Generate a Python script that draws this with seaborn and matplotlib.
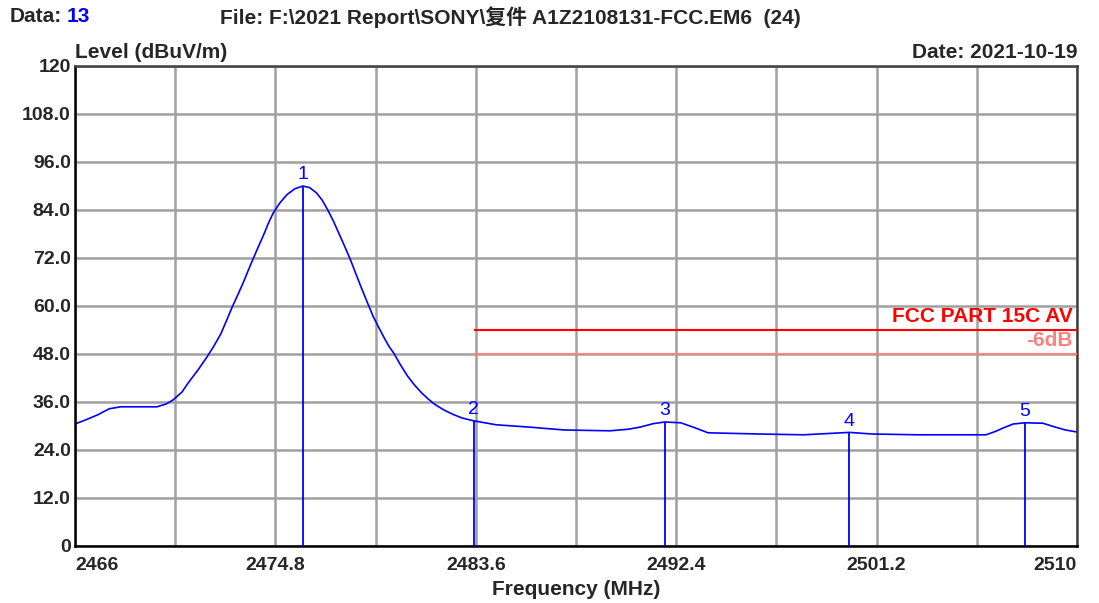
import numpy as np
import pandas as pd
import matplotlib
matplotlib.use("Agg")
import matplotlib.pyplot as plt
import seaborn as sns

# trace (MHz, dBuV/m)
freq = [2466.0, 2466.5, 2467.0, 2467.5, 2468.0, 2469.6, 2470.0, 2470.3, 2470.7,
        2471.0, 2471.4, 2471.8, 2472.1, 2472.4, 2472.65, 2472.9, 2473.15, 2473.4,
        2473.6, 2473.8, 2474.05, 2474.3, 2474.5, 2474.7, 2475.0, 2475.3, 2475.65,
        2476.0, 2476.3, 2476.6, 2476.85, 2477.1, 2477.35, 2477.6, 2477.85, 2478.1,
        2478.35, 2478.6, 2478.85, 2479.1, 2479.35, 2479.6, 2479.8, 2480.0, 2480.3,
        2480.6, 2480.9, 2481.2, 2481.5, 2481.8, 2482.2, 2482.6, 2483.0, 2483.5,
        2484.5, 2486.0, 2487.5, 2489.5, 2490.3, 2490.8, 2491.4, 2491.9, 2492.6,
        2493.2, 2493.8, 2496.0, 2498.0, 2500.0, 2501.0, 2503.0, 2506.0, 2506.4,
        2506.8, 2507.2, 2507.7, 2508.5, 2509.0, 2509.5, 2510.0]
level = [30.5, 31.6, 32.8, 34.3, 34.8, 34.8, 35.5, 36.5, 38.5,
         41.0, 44.0, 47.3, 50.0, 53.0, 56.3, 59.7, 62.8, 66.0,
         68.8, 71.5, 74.8, 78.0, 80.8, 83.2, 85.8, 87.8, 89.3,
         90.0, 89.6, 88.3, 86.5, 84.0, 81.2, 78.0, 74.8, 71.5,
         67.8, 64.2, 60.7, 57.3, 54.5, 51.8, 49.8, 48.2, 45.2,
         42.5, 40.3, 38.4, 36.8, 35.4, 34.0, 32.9, 32.0, 31.3,
         30.3, 29.7, 29.0, 28.8, 29.2, 29.7, 30.6, 31.0, 30.8,
         29.6, 28.3, 28.0, 27.8, 28.4, 28.0, 27.8, 27.8, 28.6,
         29.6, 30.5, 30.8, 30.7, 29.8, 29.0, 28.5]

marker_id = ["1", "2", "3", "4", "5"]
marker_freq = [2476.0, 2483.5, 2491.9, 2500.0, 2507.7]
marker_level = [90.0, 31.3, 31.0, 28.4, 30.8]

limit_start = 2483.5
limit_av = 54.0
limit_margin = 48.0

x_ticks = [2466, 2470.4, 2474.8, 2479.2, 2483.6, 2488.0, 2492.4, 2496.8, 2501.2, 2505.6, 2510]
x_labels = ["2466", "", "2474.8", "", "2483.6", "", "2492.4", "", "2501.2", "", "2510"]
y_ticks = [0, 12, 24, 36, 48, 60, 72, 84, 96, 108, 120]
y_labels = ["0", "12.0", "24.0", "36.0", "48.0", "60.0", "72.0", "84.0", "96.0", "108.0", "120"]

sns.set_style("white")
plt.rcParams["font.family"] = ["Liberation Sans", "Noto Sans CJK SC", "DejaVu Sans"]
FS = 14
FT = 15

df = pd.DataFrame({"freq": freq, "level": level})

fig = plt.figure(figsize=(10.99, 6.03), dpi=100)
ax = fig.add_axes([75 / 1099, 57 / 603, 1002 / 1099, 480 / 603])

sns.lineplot(data=df, x="freq", y="level", color="#0000ff", linewidth=1.2, ax=ax)

# limit lines
ax.hlines(limit_av, limit_start, 2510, color="#ff0000", linewidth=1.5, zorder=3)
ax.hlines(limit_margin, limit_start, 2510, color="#ff8080", linewidth=1.5, zorder=3)
ax.text(2509.8, limit_av + 0.9, "FCC PART 15C AV", color="#ff0000", ha="right",
        va="bottom", fontsize=FT, fontweight="bold")
ax.text(2509.8, limit_margin + 0.9, "-6dB", color="#ff8080", ha="right",
        va="bottom", fontsize=FT, fontweight="bold")

# markers
ax.vlines(marker_freq, 0, marker_level, color="#0000ff", linewidth=1.3, zorder=3)
for m, f, l in zip(marker_id, marker_freq, marker_level):
    ax.text(f, l + 0.7, m, color="#0000ff", ha="center", va="bottom", fontsize=FS)

ax.set_xlim(2466, 2510)
ax.set_ylim(0, 120)
ax.set_xticks(x_ticks)
ax.set_xticklabels(x_labels, fontsize=FS, fontweight="bold")
ax.set_yticks(y_ticks)
ax.set_yticklabels(y_labels, fontsize=FS, fontweight="bold")
ax.tick_params(axis="y", length=0, pad=3)
ax.tick_params(axis="x", length=0, pad=8)
xl = ax.get_xticklabels()
xl[0].set_ha("left")
xl[-1].set_ha("right")
ax.grid(True, color="#a0a0a0", linewidth=1.8)
ax.set_axisbelow(True)
for s in ax.spines.values():
    s.set_visible(True)
    s.set_color("black")
    s.set_linewidth(1.8)
for s in ["top", "right"]:
    ax.spines[s].set_color("#404040")

ax.set_xlabel("Frequency (MHz)", fontsize=FT, fontweight="bold", labelpad=4)
ax.set_ylabel("")

fig.text(75 / 1099, 1 - 52 / 603, "Level (dBuV/m)", fontsize=FT, fontweight="bold",
         ha="left", va="center")
fig.text(1077 / 1099, 1 - 52 / 603, "Date: 2021-10-19", fontsize=FT, fontweight="bold",
         ha="right", va="center")
fig.text(10 / 1099, 1 - 17 / 603, "Data:", fontsize=FT, fontweight="bold",
         ha="left", va="center")
fig.text(67 / 1099, 1 - 17 / 603, "13", fontsize=FT, fontweight="bold", color="#0000ff",
         ha="left", va="center")
fig.text(220 / 1099, 1 - 17 / 603, "File: F:\\2021 Report\\SONY\\复件 A1Z2108131-FCC.EM6  (24)",
         fontsize=FT, fontweight="bold", ha="left", va="center")

fig.savefig("out.png", dpi=100)
